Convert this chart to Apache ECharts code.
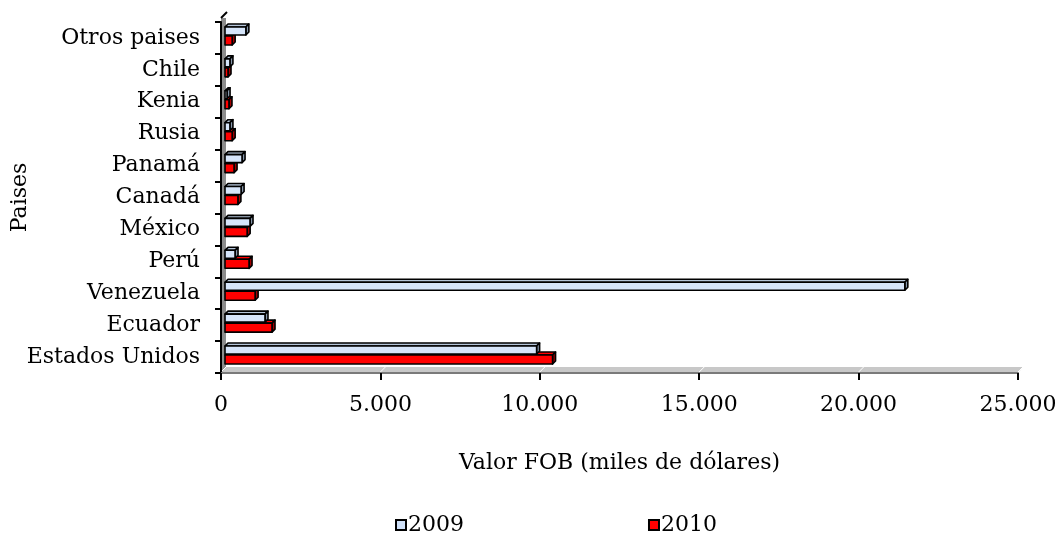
<!DOCTYPE html>
<html>
<head>
<meta charset="utf-8">
<script src="https://cdn.jsdelivr.net/npm/echarts@6/dist/echarts.min.js"></script>
<style>
  html, body { margin: 0; padding: 0; background: #fff; }
  #chart { width: 1060px; height: 533px; }
</style>
</head>
<body>
<div id="chart"></div>
<script>
// paises, de abajo hacia arriba como en el eje
var paises = ['Estados Unidos', 'Ecuador', 'Venezuela', 'Perú', 'México', 'Canadá', 'Panamá', 'Rusia', 'Kenia', 'Chile', 'Otros paises'];
var valores2009 = [9900, 1380, 21450, 440, 910, 630, 660, 280, 190, 280, 780];
var valores2010 = [10400, 1600, 1070, 880, 820, 530, 410, 350, 250, 220, 350];
var ticksX = [0, 5000, 10000, 15000, 20000, 25000];

(function () {
    var myChart = echarts.init(document.getElementById('chart'));
    var fuente = 'DejaVu Serif';
    var d = 3; // profundidad de las barras

    // barra con efecto 3D: frente, cara superior y cara derecha
    function barra3d(arribaOff, abajoOff, colores) {
        return function (params, api) {
            var v = api.value(0);
            var c = api.value(1);
            var ini = api.coord([0, c]);
            var fin = api.coord([v, c]);
            var x0 = ini[0] + 4;
            var x1 = Math.max(fin[0], x0 + 1);
            var y0 = fin[1] + arribaOff;
            var y1 = fin[1] + abajoOff;
            var borde = { stroke: '#000', lineWidth: 1.6, lineJoin: 'round' };
            return {
                type: 'group',
                children: [
                    {
                        type: 'polygon',
                        shape: { points: [[x0, y0], [x0 + d, y0 - d], [x1 + d, y0 - d], [x1, y0]] },
                        style: Object.assign({ fill: colores.arriba }, borde)
                    },
                    {
                        type: 'polygon',
                        shape: { points: [[x1, y0], [x1 + d, y0 - d], [x1 + d, y1 - d], [x1, y1]] },
                        style: Object.assign({ fill: colores.lado }, borde)
                    },
                    {
                        type: 'rect',
                        shape: { x: x0, y: y0, width: x1 - x0, height: y1 - y0 },
                        style: Object.assign({ fill: colores.frente }, borde)
                    }
                ]
            };
        };
    }

    // pared y piso grises del grafico 3D
    function fondo(params, api) {
        var g = params.coordSys;
        var x0 = g.x, yTop = g.y, yBot = g.y + g.height, xR = g.x + g.width;
        var p = 5;
        var hijos = [
            {
                type: 'rect',
                shape: { x: x0, y: yTop - 4, width: p, height: yBot - yTop + 4 },
                style: { fill: '#8c8c8c' }
            },
            {
                type: 'polygon',
                shape: { points: [[x0, yBot], [xR, yBot], [xR + p, yBot - 6], [x0 + p, yBot - 6]] },
                style: { fill: '#c8c8c8' }
            },
            {
                type: 'line',
                shape: { x1: x0, y1: yTop - 4, x2: x0 + 6, y2: yTop - 10 },
                style: { stroke: '#000', lineWidth: 2 }
            }
        ];
        ticksX.forEach(function (t) {
            var q = api.coord([t, 0]);
            hijos.push({
                type: 'line',
                shape: { x1: q[0], y1: yBot - 1, x2: q[0] + p, y2: yBot - 6 },
                style: { stroke: '#fff', lineWidth: 1 }
            });
        });
        return { type: 'group', children: hijos };
    }

    var option = {
        animation: false,
        textStyle: { fontFamily: fuente },
        grid: { left: 221, right: 42, top: 22, bottom: 160, containLabel: false, outerBoundsMode: 'none' },
        legend: {
            data: ['2009', '2010'],
            left: 390,
            top: 509,
            itemWidth: 10,
            itemHeight: 10,
            itemGap: 184,
            icon: 'rect',
            textStyle: { fontFamily: fuente, fontSize: 22, color: '#000', padding: [0, 0, 0, -3] }
        },
        xAxis: {
            type: 'value',
            min: 0,
            max: 25000,
            interval: 5000,
            name: 'Valor FOB (miles de dólares)',
            nameLocation: 'middle',
            nameGap: 79,
            nameMoveOverlap: false,
            nameTextStyle: { fontFamily: fuente, fontSize: 22, color: '#000' },
            splitLine: { show: false },
            axisLine: { show: true, lineStyle: { color: '#7a7a7a', width: 2 } },
            axisTick: { show: true, length: 7, lineStyle: { color: '#000', width: 2 } },
            axisLabel: {
                margin: 21,
                fontFamily: fuente,
                fontSize: 22,
                color: '#000',
                formatter: function (v) { return String(v).replace(/\B(?=(\d{3})+(?!\d))/g, '.'); }
            }
        },
        yAxis: {
            type: 'category',
            data: paises,
            name: 'Paises',
            nameLocation: 'middle',
            nameGap: 190,
            nameRotate: 90,
            nameMoveOverlap: false,
            nameTextStyle: { fontFamily: fuente, fontSize: 22, color: '#000' },
            axisLine: { show: true, lineStyle: { color: '#000', width: 2 } },
            axisTick: { show: true, length: 6, lineStyle: { color: '#000', width: 2 } },
            axisLabel: { margin: 21, fontFamily: fuente, fontSize: 22, color: '#000' }
        },
        series: [
            {
                type: 'custom',
                silent: true,
                z: 0,
                renderItem: fondo,
                data: [[0, 0]],
                clip: false
            },
            {
                name: '2009',
                type: 'custom',
                z: 3,
                itemStyle: { color: '#cfe0f8', borderColor: '#000', borderWidth: 2 },
                renderItem: barra3d(-11, -3, { frente: '#d6e5fa', arriba: '#b4c4d8', lado: '#8898ac' }),
                encode: { x: 0, y: 1 },
                data: valores2009.map(function (v, i) { return [v, i]; })
            },
            {
                name: '2010',
                type: 'custom',
                z: 2,
                itemStyle: { color: '#ff0000', borderColor: '#000', borderWidth: 2 },
                renderItem: barra3d(-2, 7, { frente: '#ff0000', arriba: '#ff0000', lado: '#a00000' }),
                encode: { x: 0, y: 1 },
                data: valores2010.map(function (v, i) { return [v, i]; })
            }
        ]
    };
    myChart.setOption(option);
    window.addEventListener('resize', function () {
        myChart.resize();
    });
})();
</script>
</body>
</html>
